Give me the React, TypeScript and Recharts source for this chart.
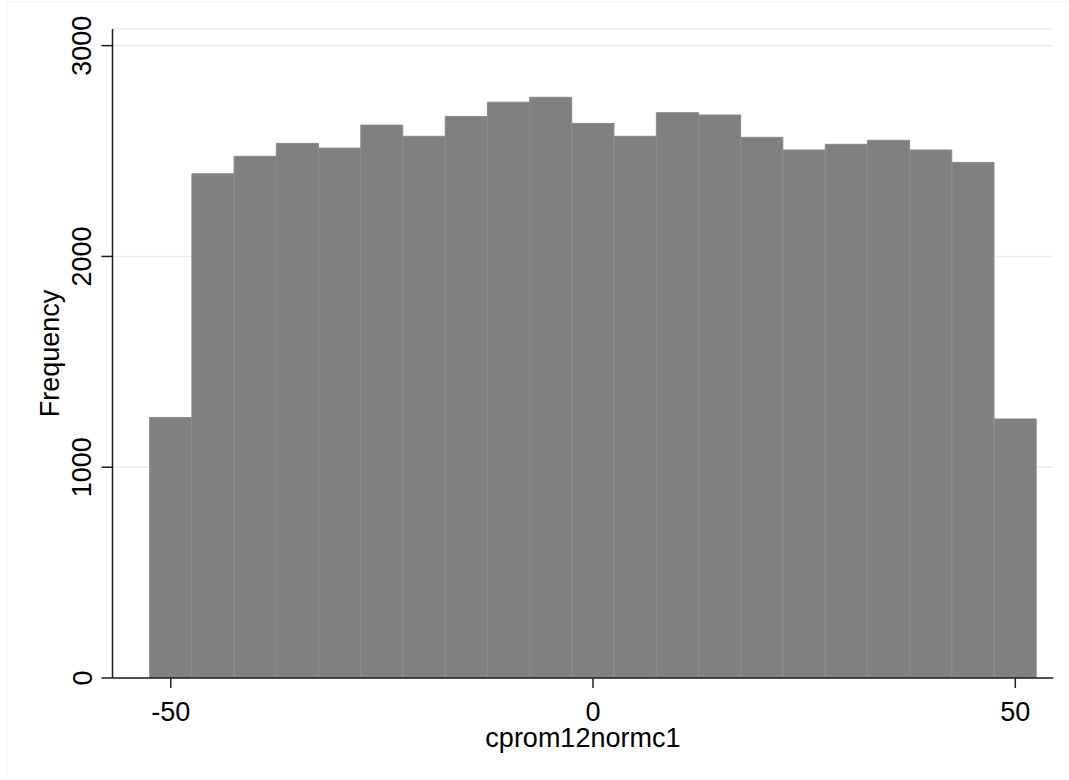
import React from 'react';
import { ComposedChart, Bar, XAxis, YAxis, CartesianGrid, Label } from 'recharts';

const binCenters = [-50, -45, -40, -35, -30, -25, -20, -15, -10, -5, 0, 5, 10, 15, 20, 25, 30, 35, 40, 45, 50];
const frequencies = [1236, 2392, 2475, 2536, 2514, 2623, 2570, 2664, 2732, 2755, 2631, 2570, 2682, 2671, 2565, 2505, 2532, 2551, 2505, 2446, 1229];
const xTicks = [-50, 0, 50];
const yTicks = [0, 1000, 2000, 3000];
const xLabel = 'cprom12normc1';
const yLabel = 'Frequency';

const data = binCenters.map((x, i) => ({ x, freq: frequencies[i] }));

const FONT = '"Liberation Sans", Arial, sans-serif';
const FS = 27;
const AXIS = '#1e1e1e';

const YTick = (props: any) => {
  const { x, y, payload } = props;
  return (
    <text
      x={x}
      y={y}
      transform={`rotate(-90 ${x} ${y})`}
      textAnchor="middle"
      fontFamily={FONT}
      fontSize={FS}
      fill="#000"
    >
      {payload.value}
    </text>
  );
};

const YLabelContent = (props: any) => {
  const vb = props.viewBox || {};
  const cx = 58.5;
  const cy = vb.y + vb.height / 2;
  return (
    <text
      x={cx}
      y={cy}
      transform={`rotate(-90 ${cx} ${cy})`}
      textAnchor="middle"
      fontFamily={FONT}
      fontSize={FS}
      fill="#000"
    >
      {yLabel}
    </text>
  );
};

export default function App() {
  return (
    <div style={{ position: 'absolute', left: 0, top: 0, width: 1069, height: 780, background: '#fff' }}>
      <div
        style={{
          position: 'absolute',
          left: 6,
          top: 1,
          width: 1063,
          height: 779,
          borderLeft: '1px solid #f1f4f5',
          borderTop: '1px solid #f1f4f5',
          boxSizing: 'border-box',
        }}
      />
      <div style={{ position: 'absolute', left: 0, top: 0 }}>
        <ComposedChart
          width={1069}
          height={780}
          data={data}
          margin={{ top: 29, right: 15.7, left: 0, bottom: 0 }}
          barCategoryGap={0}
          barGap={0}
        >
          <CartesianGrid horizontal vertical={false} stroke="#e6eff1" strokeWidth={1.6} />
          <XAxis
            dataKey="x"
            type="number"
            domain={[-56.9, 54.5]}
            allowDataOverflow
            ticks={xTicks}
            interval={0}
            height={102}
            tickSize={10}
            tickMargin={13.5}
            axisLine={{ stroke: AXIS, strokeWidth: 1.5 }}
            tickLine={{ stroke: AXIS, strokeWidth: 1.5 }}
            tick={{ fill: '#000', fontSize: FS, fontFamily: FONT }}
          >
            <Label
              value={xLabel}
              position="insideBottom"
              offset={33}
              style={{ fill: '#000', fontSize: FS, fontFamily: FONT }}
            />
          </XAxis>
          <YAxis
            type="number"
            domain={[0, 3079]}
            allowDataOverflow
            ticks={yTicks}
            interval={0}
            width={112.5}
            tickSize={11}
            tickMargin={10}
            axisLine={{ stroke: AXIS, strokeWidth: 1.5 }}
            tickLine={{ stroke: AXIS, strokeWidth: 1.5 }}
            tick={<YTick />}
          >
            <Label content={<YLabelContent />} />
          </YAxis>
          <Bar
            dataKey="freq"
            fill="#808080"
            stroke="#8a8a8a"
            strokeWidth={1}
            isAnimationActive={false}
          />
        </ComposedChart>
      </div>
    </div>
  );
}
